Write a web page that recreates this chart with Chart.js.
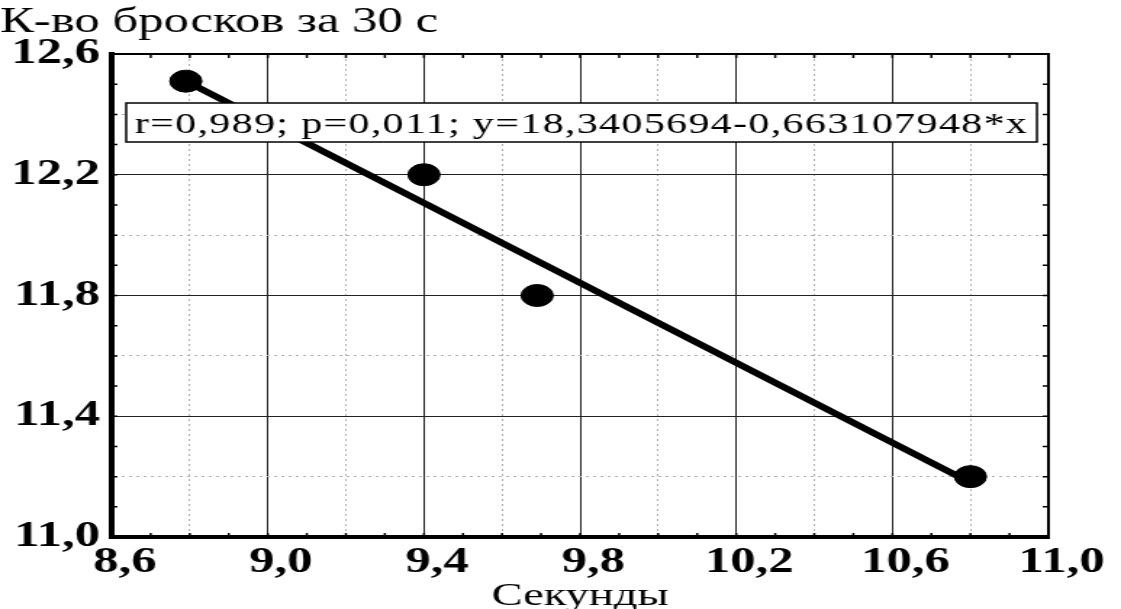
<!DOCTYPE html>
<html><head><meta charset="utf-8">
<script src="https://cdn.jsdelivr.net/npm/chart.js@4/dist/chart.umd.min.js"></script>
<style>
html,body{margin:0;padding:0;background:#fff;overflow:hidden;}
#wrap{width:773px;height:609px;transform:scaleX(1.4502);transform-origin:0 0;}
canvas{display:block;}
</style></head><body>
<div id="wrap"><canvas id="c" width="773" height="609"></canvas></div>
<script>
const titleText = 'К-во бросков за 30 с';
const xAxisTitle = 'Секунды';
const statsText = 'r=0,989; p=0,011; y=18,3405694-0,663107948*x';
const xTickLabels = ['8,6', '9,0', '9,4', '9,8', '10,2', '10,6', '11,0'];
const yTickLabels = ['11,0', '11,4', '11,8', '12,2', '12,6'];
const pointX = [8.79, 9.4, 9.69, 10.8];
const pointY = [12.51, 12.2, 11.8, 11.2];
const fitLineX = [8.79, 10.8];
const fitLineY = [12.51, 11.18];

const SERIF = '"Liberation Serif", "Times New Roman", serif';

// top/right frame plus small inward minor tick marks
const framePlugin = {
  id: 'frame',
  beforeDatasetsDraw(chart) {
    const {ctx, chartArea: a, scales} = chart;
    ctx.save();
    ctx.strokeStyle = '#000';
    ctx.lineWidth = 2;
    ctx.beginPath();
    ctx.moveTo(a.left, a.top);
    ctx.lineTo(a.right, a.top);
    ctx.lineTo(a.right, a.bottom);
    ctx.stroke();
    const L = 4;
    const xs = scales.x.ticks.map(t => scales.x.getPixelForValue(t.value));
    const ys = scales.y.ticks.map(t => scales.y.getPixelForValue(t.value));
    const xm = [], ym = [];
    for (let i = 0; i < xs.length; i++) { xm.push(xs[i]); if (i < xs.length - 1) xm.push((xs[i] + xs[i + 1]) / 2); }
    for (let i = 0; i < ys.length; i++) { ym.push(ys[i]); if (i < ys.length - 1) ym.push((ys[i] + ys[i + 1]) / 2); }
    ctx.lineWidth = 1.5;
    ctx.beginPath();
    xm.forEach(px => { ctx.moveTo(px, a.bottom); ctx.lineTo(px, a.bottom - L); ctx.moveTo(px, a.top); ctx.lineTo(px, a.top + L); });
    ym.forEach(py => { ctx.moveTo(a.left, py); ctx.lineTo(a.left + L, py); ctx.moveTo(a.right, py); ctx.lineTo(a.right - L, py); });
    ctx.stroke();
    ctx.restore();
  }
};

const statsPlugin = {
  id: 'stats',
  afterDatasetsDraw(chart) {
    const {ctx, chartArea: a} = chart;
    ctx.save();
    ctx.font = '29px ' + SERIF;
    ctx.letterSpacing = '0.9px';
    const w = ctx.measureText(statsText).width;
    const x = a.left + 10, y = a.top + 49, h = 39;
    ctx.fillStyle = '#fff';
    ctx.fillRect(x, y, w + 12, h);
    ctx.strokeStyle = '#000';
    ctx.lineWidth = 1.5;
    ctx.strokeRect(x, y, w + 12, h);
    ctx.fillStyle = '#000';
    ctx.textBaseline = 'alphabetic';
    ctx.fillText(statsText, x + 6, y + 30);
    ctx.restore();
  }
};

const gridColor = ctx => (ctx.index % 2 === 0 ? '#222' : '#b0b0b0');
const gridDash = ctx => (ctx.type === 'tick' && ctx.index % 2 === 1 ? [2, 3] : []);

new Chart(document.getElementById('c'), {
  type: 'scatter',
  data: {
    datasets: [
      {
        type: 'line',
        data: fitLineX.map((x, i) => ({x: x, y: fitLineY[i]})),
        borderColor: '#000',
        borderWidth: 6,
        pointRadius: 0,
        borderCapStyle: 'round',
        order: 2
      },
      {
        data: pointX.map((x, i) => ({x: x, y: pointY[i]})),
        backgroundColor: '#000',
        borderColor: '#000',
        pointRadius: 11,
        order: 1
      }
    ]
  },
  options: {
    responsive: false,
    animation: false,
    devicePixelRatio: 1,
    layout: {autoPadding: false, padding: {left: 0, right: 50, top: 0, bottom: 0}},
    plugins: {
      legend: {display: false},
      tooltip: {enabled: false},
      title: {
        display: true, text: titleText, align: 'start', color: '#000',
        font: {family: SERIF, size: 35, weight: 'normal', lineHeight: 1.0},
        padding: {top: 5, bottom: 14}
      }
    },
    scales: {
      x: {
        type: 'linear', min: 8.6, max: 11.0,
        afterFit: s => { s.height = 72; },
        ticks: {
          stepSize: 0.2, autoSkip: false, maxRotation: 0, color: '#000', padding: 8, labelOffset: 9,
          font: {family: SERIF, size: 35, weight: 'bold', lineHeight: 1.0},
          callback: (v, i) => (i % 2 === 0 ? xTickLabels[i / 2] : '')
        },
        grid: {color: gridColor, lineWidth: 1, drawTicks: false},
        border: {color: '#000', width: 4, dash: gridDash},
        title: {
          display: true, text: xAxisTitle, color: '#000',
          font: {family: SERIF, size: 32, weight: 'normal', lineHeight: 0.78},
          padding: {top: 0, bottom: 0}
        }
      },
      y: {
        type: 'linear', min: 11.0, max: 12.6,
        afterFit: s => { s.width = 77; },
        ticks: {
          stepSize: 0.2, autoSkip: false, color: '#000', padding: 8,
          font: {family: SERIF, size: 35, weight: 'bold', lineHeight: 1.0},
          callback: (v, i) => (i % 2 === 0 ? yTickLabels[i / 2] : '')
        },
        grid: {color: gridColor, lineWidth: 1, drawTicks: false},
        border: {color: '#000', width: 4, dash: gridDash}
      }
    }
  },
  plugins: [framePlugin, statsPlugin]
});
</script>
</body></html>
